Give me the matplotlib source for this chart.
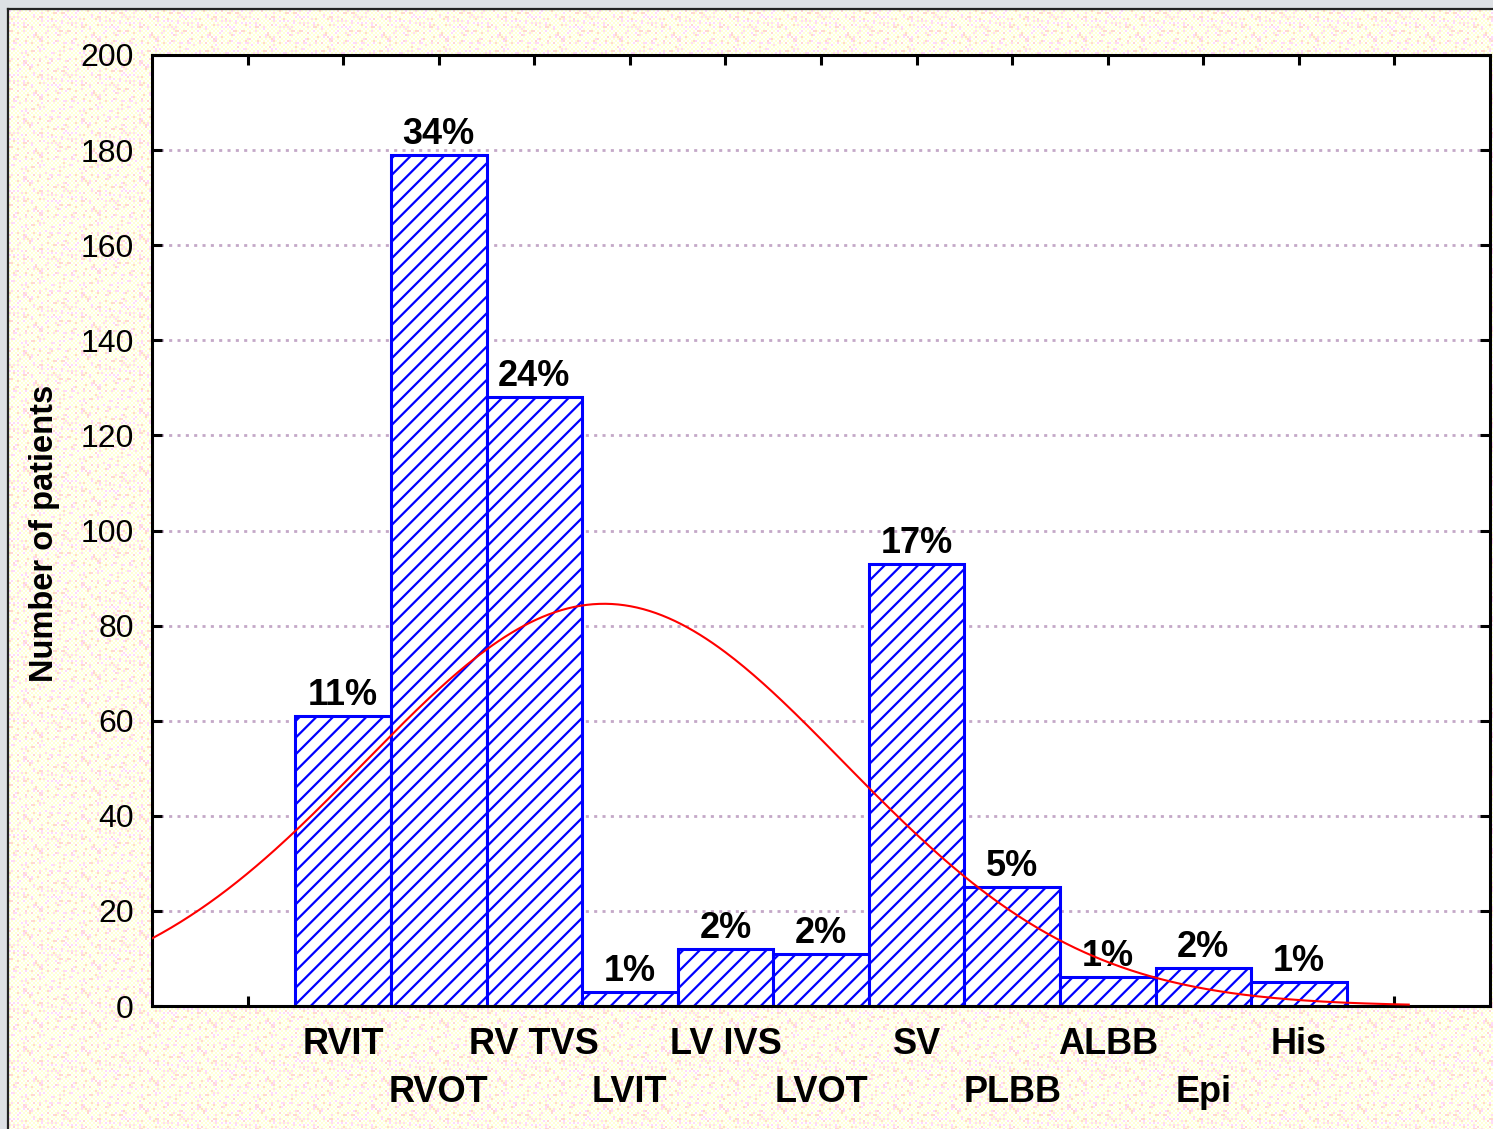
import numpy as np
import matplotlib
matplotlib.use("Agg")
import matplotlib.pyplot as plt
from matplotlib.lines import Line2D

plt.rcParams.update({
    "font.family": ["Liberation Sans", "DejaVu Sans"],
    "hatch.linewidth": 1.6,
    "axes.linewidth": 2.2,
})

# origin site of the arrhythmia, patients per site
sites = ["RVIT", "RVOT", "RV TVS", "LVIT", "LV IVS", "LVOT",
         "SV", "PLBB", "ALBB", "Epi", "His"]
patients = [61, 179, 128, 3, 12, 11, 93, 25, 6, 8, 5]
pct_labels = ["11%", "34%", "24%", "1%", "2%", "2%",
              "17%", "5%", "1%", "2%", "1%"]
pos = np.arange(2, 2 + len(sites))

# normal curve fitted to the site histogram
counts = np.array(patients, dtype=float)
n_tot = counts.sum()
mu = (pos * counts).sum() / n_tot
sd = np.sqrt(((pos - mu) ** 2 * counts).sum() / n_tot)

W, H = 1493, 1129
fig = plt.figure(figsize=(W / 100, H / 100), dpi=100, facecolor="#dde0e4")

# dithered window background (2px cells, scattered tinted dots)
bh, bw = H - 10, W - 9
ci, cj = np.indices((bh, bw)) // 2
tex = np.ones((bh, bw, 3))
tex[(ci + cj) % 2 == 0] = (1.0, 1.0, 0.84)
hsh = (ci * ci * 3 + cj * cj * 7 + ci * cj * 5 + ci * 11) % 29
tex[hsh < 3] = (1.0, 0.86, 0.97)
tex[(hsh >= 3) & (hsh < 5)] = (1.0, 0.85, 0.82)
fig.figimage(tex, xo=9, yo=0, origin="upper", zorder=-10)
fig.lines.append(Line2D([8 / W, 1], [1 - 8.5 / H] * 2, transform=fig.transFigure,
                        color="#222222", lw=1.6, zorder=-9))
fig.lines.append(Line2D([7.5 / W] * 2, [0, 1 - 8.5 / H], transform=fig.transFigure,
                        color="#222222", lw=1.6, zorder=-9))

ax = fig.add_axes([152 / W, 1 - 1006 / H, (1490 - 152) / W, (1006 - 55) / H])
ax.set_facecolor("white")
ax.set_xlim(0, 14)
ax.set_ylim(0, 200)

yt = np.arange(0, 201, 20)
for y in yt[1:-1]:
    ax.axhline(y, color="#c4a8c8", lw=2.0, dashes=(1.1, 1.9), zorder=1)

ax.bar(pos, patients, width=1.0, color="white", edgecolor="#0000ff",
       hatch="//", lw=2.2, zorder=2)

xs = np.linspace(0, 13.15, 400)
fit = n_tot / (sd * np.sqrt(2 * np.pi)) * np.exp(-0.5 * ((xs - mu) / sd) ** 2)
ax.plot(xs, fit, color="#ff0000", lw=1.5, zorder=5)

for x, v, lab in zip(pos, patients, pct_labels):
    ax.annotate(lab, (x, v), xytext=(0, 8), textcoords="offset points",
                ha="center", va="baseline", fontsize=26, fontweight="bold",
                zorder=4)

for i, (x, s) in enumerate(zip(pos, sites)):
    yy = -0.041 if i % 2 == 0 else -0.0905
    ax.text(x, yy, s, transform=ax.get_xaxis_transform(), ha="center",
            va="center", fontsize=26, fontweight="bold")

ax.set_yticks(yt)
ax.set_yticklabels([str(v) for v in yt], fontsize=23)
ax.set_xticks(np.arange(1, 14))
ax.set_xticklabels([])
ax.tick_params(axis="both", direction="in", length=7, width=2.2,
               top=True, right=True)
ax.tick_params(axis="y", pad=13)

fig.text(45 / W, 1 - 533 / H, "Number of patients", rotation=90,
         ha="center", va="center", fontsize=23.5, fontweight="bold")

fig.savefig("out.png", dpi=100, facecolor=fig.get_facecolor())
